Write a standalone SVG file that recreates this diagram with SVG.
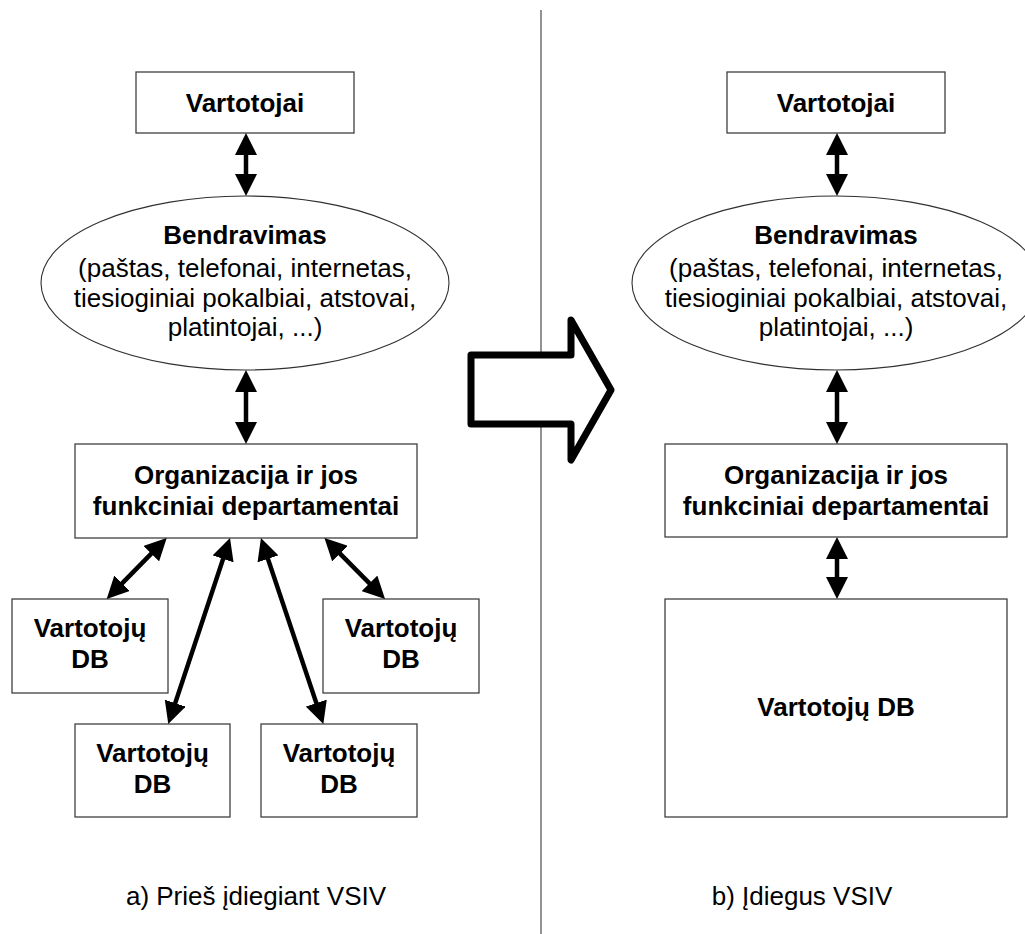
<svg xmlns="http://www.w3.org/2000/svg" width="1025" height="934" viewBox="0 0 1025 934">
  <style>
    .box { fill: #ffffff; stroke: #404040; stroke-width: 1.3; }
    .oval { fill: #ffffff; stroke: #303030; stroke-width: 1.1; }
    .t { font-family: "Liberation Sans", Arial, sans-serif; font-size: 26px; fill: #000000; text-anchor: middle; }
    .b { font-weight: bold; }
    .link { stroke: #000000; stroke-width: 4.5; fill: none; marker-start: url(#head); marker-end: url(#head); }
  </style>
  <defs>
    <marker id="head" viewBox="0 0 22 22" refX="14" refY="11" markerWidth="22" markerHeight="22" markerUnits="userSpaceOnUse" orient="auto-start-reverse">
      <path d="M0,0 L22,11 L0,22 z" fill="#000000"/>
    </marker>
  </defs>
  <rect width="1025" height="934" fill="#ffffff"/>

  <!-- divider between the two panels -->
  <line x1="541" y1="10" x2="541" y2="934" stroke="#6e6e6e" stroke-width="1.5"/>

  <!-- a) left panel -->
  <g id="a-vartotojai">
    <rect class="box" x="136" y="72" width="218" height="61"/>
    <text class="t b" x="245" y="112">Vartotojai</text>
  </g>
  <g id="a-bendravimas">
    <ellipse class="oval" cx="245" cy="283" rx="204" ry="87"/>
    <text class="t b" x="245" y="244">Bendravimas</text>
    <text class="t" x="245" y="277">(paštas, telefonai, internetas,</text>
    <text class="t" x="245" y="307">tiesioginiai pokalbiai, atstovai,</text>
    <text class="t" x="245" y="336">platintojai, ...)</text>
  </g>
  <g id="a-organizacija">
    <rect class="box" x="75" y="444" width="342" height="94"/>
    <text class="t b" x="246" y="484">Organizacija ir jos</text>
    <text class="t b" x="246" y="515">funkciniai departamentai</text>
  </g>
  <g id="a-db1">
    <rect class="box" x="12" y="599" width="156" height="94"/>
    <text class="t b" x="90" y="637">Vartotojų</text>
    <text class="t b" x="90" y="668">DB</text>
  </g>
  <g id="a-db2">
    <rect class="box" x="75" y="724" width="155" height="93"/>
    <text class="t b" x="152.5" y="762">Vartotojų</text>
    <text class="t b" x="152.5" y="793">DB</text>
  </g>
  <g id="a-db3">
    <rect class="box" x="261" y="724" width="156" height="93"/>
    <text class="t b" x="339" y="762">Vartotojų</text>
    <text class="t b" x="339" y="793">DB</text>
  </g>
  <g id="a-db4">
    <rect class="box" x="323" y="599" width="156" height="94"/>
    <text class="t b" x="401" y="637">Vartotojų</text>
    <text class="t b" x="401" y="668">DB</text>
  </g>
  <text id="a-caption" class="t" x="256" y="905">a) Prieš įdiegiant VSIV</text>

  <!-- transition arrow -->
  <g id="transition">
    <polygon points="471,355 571,355 571,320 611,390 571,460 571,424 471,424" fill="#ffffff" stroke="#000000" stroke-width="7" stroke-linejoin="round"/>
  </g>

  <!-- b) right panel -->
  <g id="b-vartotojai">
    <rect class="box" x="727" y="72" width="218" height="61"/>
    <text class="t b" x="836" y="112">Vartotojai</text>
  </g>
  <g id="b-bendravimas">
    <ellipse class="oval" cx="836" cy="283" rx="204" ry="87"/>
    <text class="t b" x="836" y="244">Bendravimas</text>
    <text class="t" x="836" y="277">(paštas, telefonai, internetas,</text>
    <text class="t" x="836" y="307">tiesioginiai pokalbiai, atstovai,</text>
    <text class="t" x="836" y="336">platintojai, ...)</text>
  </g>
  <g id="b-organizacija">
    <rect class="box" x="665" y="444" width="342" height="93"/>
    <text class="t b" x="836" y="484">Organizacija ir jos</text>
    <text class="t b" x="836" y="515">funkciniai departamentai</text>
  </g>
  <g id="b-db">
    <rect class="box" x="665" y="599" width="342" height="218"/>
    <text class="t b" x="836" y="716">Vartotojų DB</text>
  </g>
  <text id="b-caption" class="t" x="802" y="905">b) Įdiegus VSIV</text>

  <!-- connectors -->
  <g id="connectors">
    <line class="link" x1="246" y1="141" x2="246" y2="188"/>
    <line class="link" x1="246" y1="378" x2="246" y2="436"/>
    <line class="link" x1="161.1" y1="543.7" x2="112.3" y2="593.3"/>
    <line class="link" x1="227.5" y1="545.6" x2="170.8" y2="716.4"/>
    <line class="link" x1="263.5" y1="545.6" x2="320.8" y2="716.4"/>
    <line class="link" x1="330.1" y1="543.7" x2="379.4" y2="593.3"/>
    <line class="link" x1="837" y1="141" x2="837" y2="188"/>
    <line class="link" x1="837" y1="378" x2="837" y2="436"/>
    <line class="link" x1="837" y1="545" x2="837" y2="591"/>
  </g>
</svg>
